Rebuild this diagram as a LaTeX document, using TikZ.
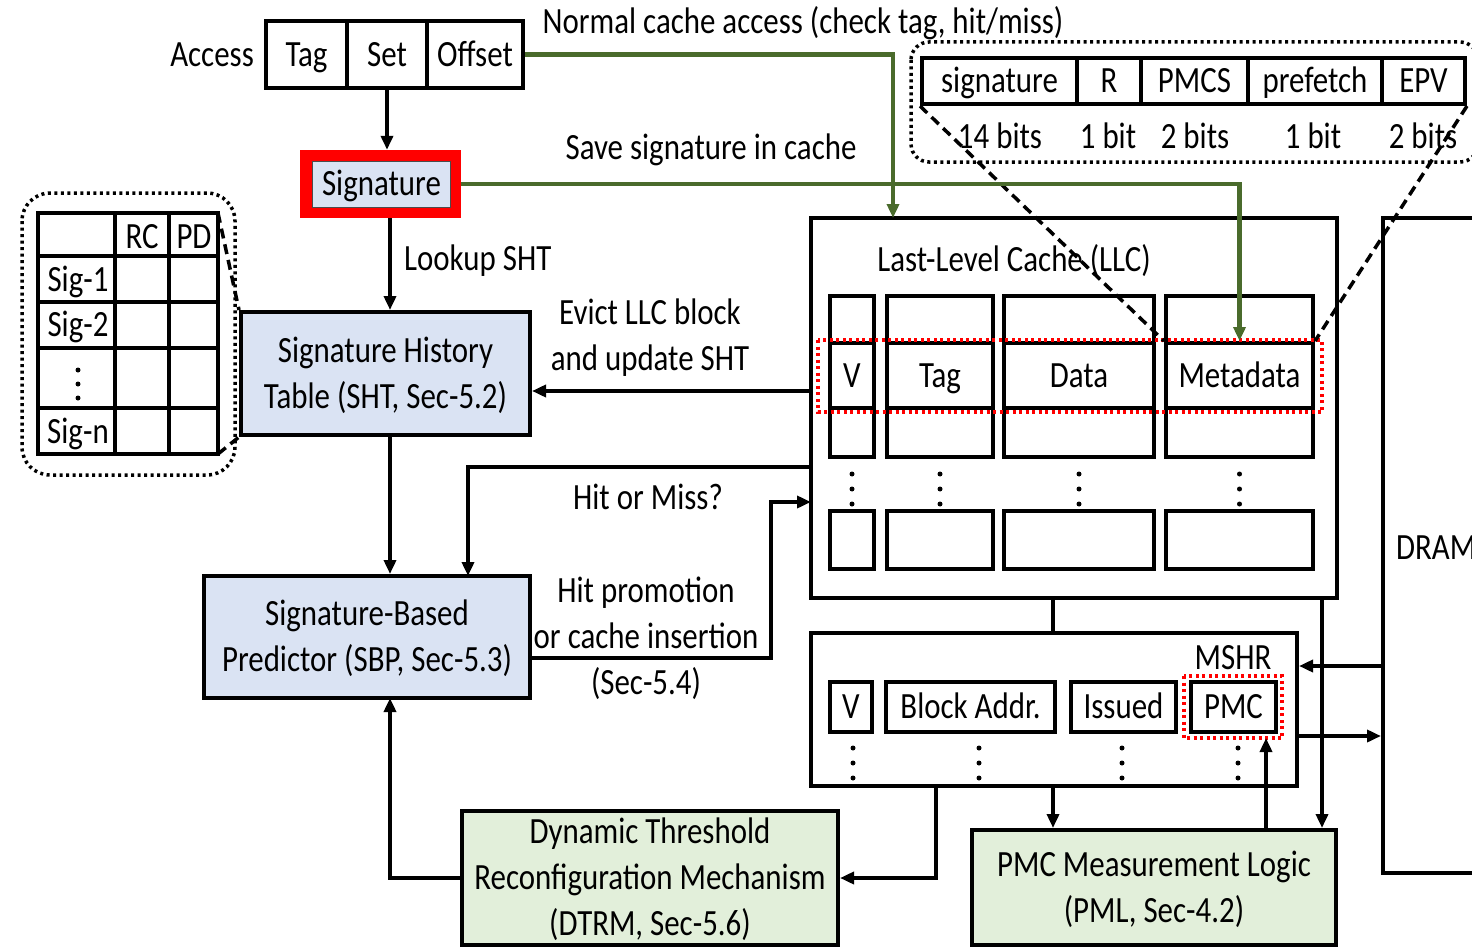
\documentclass[tikz,border=0pt]{standalone}
\usepackage{fontspec}
\setmainfont{Carlito}[FakeStretch=0.835]
\usetikzlibrary{arrows.meta}
\definecolor{gr}{HTML}{4A6B2C}
\definecolor{lblue}{HTML}{DAE3F3}
\definecolor{lgreen}{HTML}{E2EFDA}
\tikzset{
  box/.style={draw, line width=4pt, inner sep=0pt, align=center},
  one/.style={text height=23.5pt, text depth=0pt},
  two/.style={text height=69.5pt, text depth=0pt},
  three/.style={text height=115.5pt, text depth=0pt},
  arr/.style={-{Triangle[length=14pt,width=12pt]}, line width=4pt},
  garr/.style={arr, draw=gr, line width=4.5pt},
  txt/.style={inner sep=0pt, align=center},
  dotline/.style={line width=3.5pt, dash pattern=on 3pt off 3.5pt},
  dashline/.style={line width=3.5pt, dash pattern=on 10pt off 6pt},
  vdot/.style={fill, circle, inner sep=0pt, minimum size=5pt}
}
\begin{document}
\begin{tikzpicture}[x=1pt,y=-1pt,font=\fontsize{37}{46}\selectfont]
\useasboundingbox (0,0) rectangle (1472,947);
% Access fields
\node[txt, one, anchor=east] (acc) at (254,55) {Access};
\node[box, one, minimum width=81, minimum height=67] (tag) at (306.5,54.5) {Tag};
\node[box, one, minimum width=80, minimum height=67] (set) at (387,54.5) {Set};
\node[box, one, minimum width=96, minimum height=67] (off) at (475,54.5) {Offset};
% Signature
\node[fill=red, minimum width=161, minimum height=68, inner sep=0pt] (sig) at (380.5,184) {};
\node[fill=lblue, draw=black!70, line width=1pt, one, minimum width=138, minimum height=46, inner sep=0pt] (sigin) at (381.5,184) {Signature};
% SHT & SBP
\node[box, two, fill=lblue, minimum width=289, minimum height=123] (sht) at (385.5,373.5) {Signature History\\Table (SHT, Sec-5.2)};
\node[box, two, fill=lblue, minimum width=326, minimum height=122] (sbp) at (367,637) {Signature-Based\\Predictor (SBP, Sec-5.3)};
% Left table
\draw[line width=4pt] (38,213) rectangle (218,454);
\foreach \yy in {256,302,348,408} \draw[line width=4pt] (38,\yy) -- (218,\yy);
\foreach \xx in {115,169} \draw[line width=4pt] (\xx,213) -- (\xx,454);
\node[txt, one] (rc) at (142,237) {RC};
\node[txt, one] (pd) at (194,237) {PD};
\node[txt, one] (s1) at (78,280) {Sig-1};
\node[txt, one] (s2) at (78,325) {Sig-2};
\node[vdot] (td1) at (78,370) {};
\node[vdot] (td2) at (78,384) {};
\node[vdot] (td3) at (78,398) {};
\node[txt, one] (sn) at (78,432) {Sig-n};
\draw[dotline, rounded corners=28pt] (22,193) rectangle (235,475);
\coordinate (tne) at (218,213);
\coordinate (tse) at (218,454);
\draw[dashline] (tne) -- (sht.north west);
\draw[dashline] (tse) -- (sht.south west);
% LLC
\node[box, minimum width=526, minimum height=380] (llc) at (1074,408) {};
\node[txt, one] (llct) at (1014,260) {Last-Level Cache (LLC)};
\foreach \n/\cx/\w in {v/852/44, t/940/106, d/1079/150, m/1239.5/147} {
  \node[box, minimum width=\w, minimum height=47] (\n top) at (\cx,319.5) {};
  \node[box, minimum width=\w, minimum height=65] (\n mid) at (\cx,375.5) {};
  \node[box, minimum width=\w, minimum height=49] (\n bot) at (\cx,432.5) {};
  \node[box, minimum width=\w, minimum height=58] (\n low) at (\cx,540) {};
  \node[vdot] at (\cx,474) {};
  \node[vdot] at (\cx,489) {};
  \node[vdot] at (\cx,504) {};
}
\node[txt, one] at (vmid) {V};
\node[txt, one] at (tmid) {Tag};
\node[txt, one] at (dmid) {Data};
\node[txt, one] at (mmid) {Metadata};
\draw[dotline, red] (818,340) rectangle (1322,412);
% Metadata fields
\node[box, one, minimum width=155, minimum height=46] (fsig) at (999.5,81) {signature};
\node[box, one, minimum width=64, minimum height=46] (fr) at (1109,81) {R};
\node[box, one, minimum width=107, minimum height=46] (fp) at (1194.5,81) {PMCS};
\node[box, one, minimum width=134, minimum height=46] (fpre) at (1315,81) {prefetch};
\node[box, one, minimum width=83, minimum height=46] (fepv) at (1423.5,81) {EPV};
\node[txt, one] (b1) at (1000,137) {14 bits};
\node[txt, one] (b2) at (1108,137) {1 bit};
\node[txt, one] (b3) at (1195,137) {2 bits};
\node[txt, one] (b4) at (1313,137) {1 bit};
\node[txt, one] (b5) at (1423,137) {2 bits};
\draw[dotline, rounded corners=18pt] (911,42) rectangle (1478,162);
\draw[dashline] (fsig.south west) -- (mmid.north west);
\draw[dashline] (fepv.south east) -- (mmid.north east);
% DRAM
\node[box, minimum width=140, minimum height=655] (dram) at (1453,545.5) {};
\node[txt, one, anchor=west] (dramt) at (1396,548) {DRAM};
% MSHR
\node[box, minimum width=486, minimum height=153] (mshr) at (1054,709.5) {};
\node[txt, one] (mshrt) at (1233,658) {MSHR};
\node[box, one, minimum width=42, minimum height=50] (mv) at (851,707) {V};
\node[box, one, minimum width=169, minimum height=50] (mba) at (970.5,707) {Block Addr.};
\node[box, one, minimum width=105, minimum height=50] (mis) at (1123.5,707) {Issued};
\node[box, one, minimum width=85, minimum height=50] (pmc) at (1233.5,707) {PMC};
\draw[dotline, red] (1184,676) rectangle (1282,738);
\foreach \cx in {853,979,1122,1238} {
  \node[vdot] at (\cx,748) {};
  \node[vdot] at (\cx,763) {};
  \node[vdot] at (\cx,778) {};
}
% Bottom boxes
\node[box, two, fill=lgreen, minimum width=364, minimum height=115] (pml) at (1154,887.5) {PMC Measurement Logic\\(PML, Sec-4.2)};
\node[box, three, fill=lgreen, minimum width=376, minimum height=134] (dtrm) at (650,878) {Dynamic Threshold\\Reconfiguration Mechanism\\(DTRM, Sec-5.6)};
% Labels
\node[txt, one] (l1) at (803,22) {Normal cache access (check tag, hit/miss)};
\node[txt, one] (l2) at (711,148) {Save signature in cache};
\node[txt, one, anchor=west] (l3) at (404,259) {Lookup SHT};
\node[txt, two] (l4) at (650,336) {Evict LLC block\\and update SHT};
\node[txt, three] (l6) at (646,637) {Hit promotion\\or cache insertion\\(Sec-5.4)};
\node[txt, one] (l5) at (648,498) {Hit or Miss?};
% Connectors
\coordinate (g1) at (893,218);
\draw[garr] (off.east) -| (g1);
\draw[garr] (sig.east) -| (mmid.north);
\draw[arr] (set.south) -- (set.south |- sig.north);
\coordinate (c0) at (390,218);
\draw[arr] (c0) -- (c0 |- sht.north);
\coordinate (c7) at (390,435);
\draw[arr] (c7) -- (c7 |- sbp.north);
\coordinate (c8) at (811,391);
\draw[arr] (c8) -- (c8 -| sht.east);
\coordinate (c9) at (811,467);
\coordinate (c10) at (468,576);
\draw[arr] (c9) -| (c10);
\coordinate (c11) at (530,658);
\coordinate (c12) at (771,502);
\coordinate (c13) at (811,502);
\draw[arr] (c11) -| (c12) -- (c13);
\coordinate (c1) at (1053,598);
\draw[line width=4pt] (c1) -- (c1 |- mshr.north);
\coordinate (c2) at (1322,598);
\draw[arr] (c2) -- (c2 |- pml.north);
\coordinate (d1) at (1383,666);
\draw[arr] (d1) -- (d1 -| mshr.east);
\coordinate (d2) at (1297,736);
\draw[arr] (d2) -- (d2 -| dram.west);
\coordinate (c3) at (1053,786);
\draw[arr] (c3) -- (c3 |- pml.north);
\coordinate (c4) at (1266,830);
\draw[arr] (c4) -- (1266,738);
\coordinate (c5) at (936,786);
\draw[arr] (c5) |- (dtrm.east);
\coordinate (c6) at (390,698);
\draw[arr] (dtrm.west) -| (c6);
\end{tikzpicture}
\end{document}
